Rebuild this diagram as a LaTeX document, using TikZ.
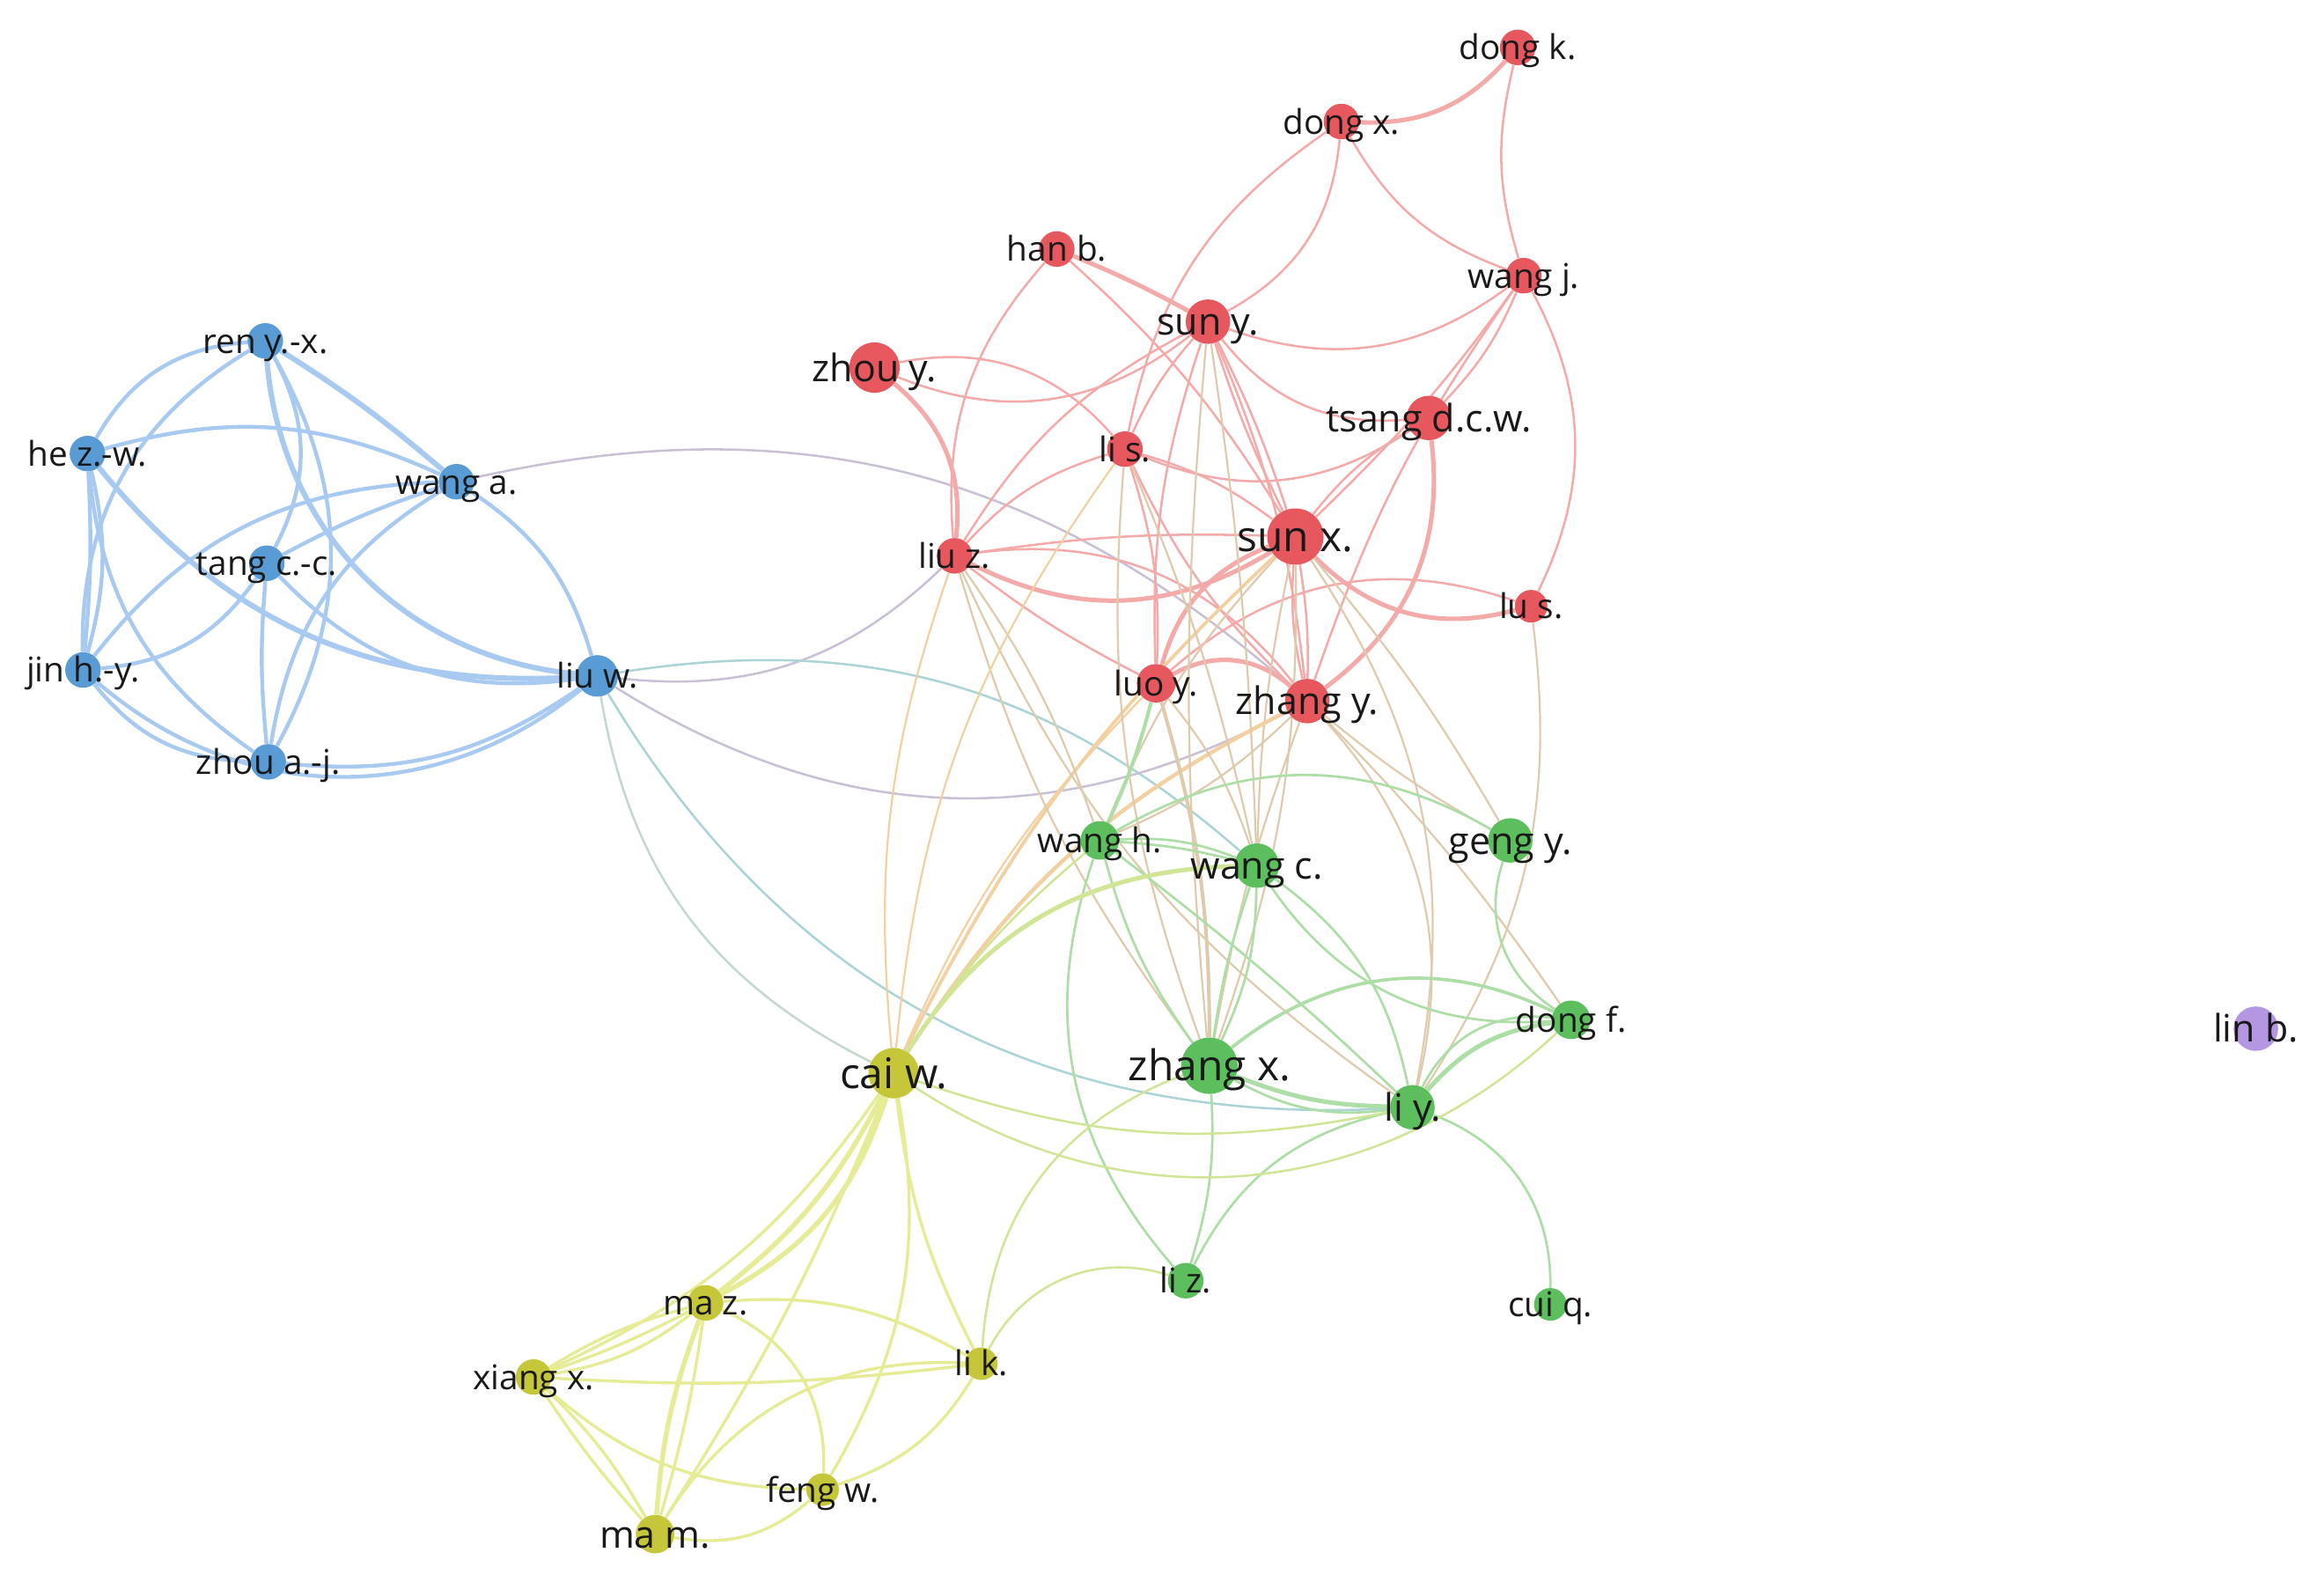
\documentclass[tikz,border=0pt]{standalone}
\usepackage{fontspec}
\setmainfont{Open Sans}
\definecolor{nred}{RGB}{231,88,94}
\definecolor{nblue}{RGB}{88,155,213}
\definecolor{ngreen}{RGB}{92,190,92}
\definecolor{nyellow}{RGB}{198,198,58}
\definecolor{npurple}{RGB}{180,150,226}
\definecolor{cblue}{RGB}{168,202,240}
\definecolor{cred}{RGB}{245,170,170}
\definecolor{cgreen}{RGB}{172,222,166}
\definecolor{cyellow}{RGB}{230,235,150}
\definecolor{crg}{RGB}{222,202,172}
\definecolor{cry}{RGB}{242,208,160}
\definecolor{cyg}{RGB}{208,230,150}
\definecolor{cbr}{RGB}{202,192,214}
\definecolor{cbg}{RGB}{172,212,215}
\definecolor{cby}{RGB}{196,216,206}
\definecolor{txt}{RGB}{25,25,25}
\pgfdeclarelayer{bg}
\pgfdeclarelayer{edges}
\pgfsetlayers{bg,edges,main}
\begin{document}
\begin{tikzpicture}[x=1pt,y=1pt,
  nd/.style={circle,inner sep=0pt,minimum size=#1},
  R/.style={fill=nred}, B/.style={fill=nblue}, G/.style={fill=ngreen},
  Y/.style={fill=nyellow}, P/.style={fill=npurple},
  lb/.style={inner sep=0pt,anchor=base,text=txt},
  ls/.style={lb,font=\fontsize{23}{23}\selectfont,yshift=-8.3pt},
  lm/.style={lb,font=\fontsize{25.5}{25.5}\selectfont,yshift=-9.2pt},
  ll/.style={lb,font=\fontsize{28.5}{28.5}\selectfont,yshift=-10.3pt},
  eb/.style={draw=cblue,line width=2.6pt},
  eB/.style={draw=cblue,line width=3.6pt},
  er/.style={draw=cred,line width=1.5pt},
  eR/.style={draw=cred,line width=3pt},
  eg/.style={draw=cgreen,line width=1.6pt},
  eG/.style={draw=cgreen,line width=3pt},
  ey/.style={draw=cyellow,line width=2pt},
  eY/.style={draw=cyellow,line width=3.2pt},
  erg/.style={draw=crg,line width=1.3pt},
  ery/.style={draw=cry,line width=1.3pt},
  eyg/.style={draw=cyg,line width=1.5pt},
  ebr/.style={draw=cbr,line width=1.5pt},
  ebg/.style={draw=cbg,line width=1.5pt},
  eby/.style={draw=cby,line width=1.5pt}]
\useasboundingbox (0,-1067) rectangle (1568,0);
\begin{pgfonlayer}{bg}
\fill[white] (0,-1067) rectangle (1568,0);
\end{pgfonlayer}

% ---------- nodes ----------
% red
\node[nd=24,R] (dongk) at (1024,-32) {};
\node[nd=24,R] (dongx) at (905,-82) {};
\node[nd=24,R] (hanb) at (713,-168) {};
\node[nd=24,R] (wangj) at (1028,-186) {};
\node[nd=30,R] (suny) at (815,-217) {};
\node[nd=34,R] (zhouy) at (590,-248) {};
\node[nd=30,R] (tsang) at (964,-282) {};
\node[nd=24,R] (lis) at (759,-303) {};
\node[nd=38,R] (sunx) at (874,-362) {};
\node[nd=24,R] (liuz) at (644,-375) {};
\node[nd=22,R] (lus) at (1033,-409) {};
\node[nd=26,R] (luoy) at (780,-461) {};
\node[nd=30,R] (zhangy) at (882,-473) {};
% green
\node[nd=26,G] (wangh) at (742,-567) {};
\node[nd=30,G] (wangc) at (848,-584) {};
\node[nd=30,G] (gengy) at (1019,-567) {};
\node[nd=26,G] (dongf) at (1060,-688) {};
\node[nd=38,G] (zhangx) at (816,-719) {};
\node[nd=30,G] (liy) at (953,-747) {};
\node[nd=24,G] (liz) at (800,-864) {};
\node[nd=22,G] (cuiq) at (1046,-880) {};
% yellow
\node[nd=34,Y] (caiw) at (603,-724) {};
\node[nd=24,Y] (maz) at (476,-879) {};
\node[nd=24,Y] (xiangx) at (360,-929) {};
\node[nd=22,Y] (lik) at (662,-920) {};
\node[nd=22,Y] (fengw) at (555,-1005) {};
\node[nd=26,Y] (mam) at (442,-1035) {};
% purple
\node[nd=30,P] (linb) at (1522,-694) {};
% blue
\node[nd=24,B] (ren) at (179,-230) {};
\node[nd=24,B] (hez) at (59,-306) {};
\node[nd=24,B] (wanga) at (308,-325) {};
\node[nd=24,B] (tang) at (180,-380) {};
\node[nd=24,B] (jin) at (56,-452) {};
\node[nd=24,B] (zhoua) at (181,-514) {};
\node[nd=28,B] (liuw) at (403,-456) {};

% ---------- edges ----------
\begin{pgfonlayer}{edges}
% blue
\draw[eb] (ren) to[bend right=28] (hez);
\draw[eb] (ren) to[bend right=30] (jin);
\draw[eb] (ren) to[bend left=28] (tang);
\draw[eb] (ren) to[bend left=29] (zhoua);
\draw[eB] (ren) to[bend left=4] (wanga);
\draw[eB] (ren) to[bend right=40] (liuw);
\draw[eb] (hez) to[bend left=20] (wanga);
\draw[eb] (hez) to[bend left=4] (jin);
\draw[eb] (hez) to[bend left=14] (jin);
\draw[eb] (hez) to[bend right=25] (zhoua);
\draw[eB] (hez) to[bend right=27] (liuw);
\draw[eb] (jin) to[bend left=25] (wanga);
\draw[eb] (jin) to[bend right=25] (tang);
\draw[eb] (jin) to[bend right=25] (zhoua);
\draw[eb] (jin) to[bend right=40] (liuw);
\draw[eb] (tang) to[bend left=5] (wanga);
\draw[eb] (tang) to[bend right=5] (zhoua);
\draw[eb] (tang) to[bend right=27] (liuw);
\draw[eb] (wanga) to[bend right=25] (zhoua);
\draw[eb] (wanga) to[bend left=20] (liuw);
\draw[eb] (zhoua) to[bend right=20] (liuw);
% blue cross
\draw[ebr] (wanga) to[bend left=27] (zhangy);
\draw[ebr] (liuw) to[bend right=25] (liuz);
\draw[ebg] (liuw) to[bend left=25] (wangc);
\draw[ebr] (liuw) to[bend right=30] (zhangy);
\draw[eby] (liuw) to[bend right=27] (caiw);
\draw[ebg] (liuw) to[bend right=31] (liy);
% red
\draw[eR] (dongx) to[bend right=25] (dongk);
\draw[er] (dongk) to[bend right=15] (wangj);
\draw[er] (dongx) to[bend left=28] (suny);
\draw[er] (dongx) to[bend right=20] (wangj);
\draw[er] (dongx) to[bend right=22] (lis);
\draw[eR] (hanb) to[bend left=3] (suny);
\draw[er] (hanb) to[bend left=8] (sunx);
\draw[er] (hanb) to[bend right=23] (liuz);
\draw[er] (suny) to[bend right=28] (wangj);
\draw[er] (suny) to[bend right=28] (tsang);
\draw[er] (zhouy) to[bend right=30] (suny);
\draw[er] (zhouy) to[bend left=30] (lis);
\draw[eR] (zhouy) to[bend left=28] (liuz);
\draw[er] (lis) to[bend left=8] (suny);
\draw[er] (lis) to[bend right=28] (tsang);
\draw[er] (suny) to[bend left=4] (sunx);
\draw[er] (suny) to[bend right=4] (sunx);
\draw[er] (suny) to[bend left=8] (zhangy);
\draw[er] (suny) to[bend right=10] (luoy);
\draw[er] (suny) to[bend right=15] (liuz);
\draw[er] (wangj) to[bend left=10] (tsang);
\draw[er] (wangj) to[bend left=5] (sunx);
\draw[er] (wangj) to[bend right=8] (zhangy);
\draw[er] (wangj) to[bend left=27] (lus);
\draw[er] (liuz) to[bend left=5] (sunx);
\draw[eR] (liuz) to[bend right=29] (sunx);
\draw[er] (liuz) to[bend left=30] (zhangy);
\draw[eR] (sunx) to[bend right=30] (lus);
\draw[eR] (sunx) to[bend right=26] (luoy);
\draw[er] (sunx) to[bend left=5] (zhangy);
\draw[er] (sunx) to[bend right=8] (zhangy);
\draw[eR] (tsang) to[bend left=30] (zhangy);
\draw[er] (tsang) to[bend right=10] (sunx);
\draw[eR] (luoy) to[bend left=35] (zhangy);
\draw[er] (luoy) to[bend left=30] (lus);
\draw[er] (lis) to[bend left=10] (sunx);
\draw[er] (lis) to[bend right=15] (liuz);
\draw[er] (lis) to[bend left=10] (luoy);
\draw[er] (lis) to[bend right=10] (zhangy);
\draw[er] (liuz) to[bend right=5] (luoy);
% red cross
\draw[erg] (sunx) to[bend right=10] (wangh);
\draw[erg] (sunx) to[bend right=5] (wangc);
\draw[erg] (sunx) to[bend left=10] (zhangx);
\draw[erg] (sunx) to[bend left=22] (liy);
\draw[ery,line width=2.2pt] (sunx) to[bend right=10] (caiw);
\draw[ery,line width=2.6pt] (zhangy) to[bend right=15] (caiw);
\draw[erg] (zhangy) to[bend left=10] (wangh);
\draw[erg] (zhangy) to[bend right=5] (zhangx);
\draw[erg] (zhangy) to[bend left=28] (liy);
\draw[erg] (zhangy) to[bend right=5] (gengy);
\draw[erg] (zhangy) to[bend left=5] (dongf);
\draw[erg] (luoy) to[bend left=10] (wangc);
\draw[ery] (luoy) to[bend right=10] (caiw);
\draw[erg,line width=2.4pt] (luoy) to[bend left=8] (zhangx);
\draw[erg] (liuz) to[bend right=10] (zhangx);
\draw[erg] (liuz) to[bend left=8] (wangh);
\draw[ery] (liuz) to[bend right=12] (caiw);
\draw[erg] (liuz) to[bend right=15] (liy);
\draw[erg] (lis) to[bend right=12] (zhangx);
\draw[erg] (lis) to[bend left=5] (wangc);
\draw[ery] (lis) to[bend right=15] (caiw);
\draw[erg] (suny) to[bend left=3] (wangc);
\draw[erg] (suny) to[bend right=5] (zhangx);
\draw[erg] (lus) to[bend left=20] (liy);
\draw[erg] (sunx) to[bend left=5] (gengy);
% green
\draw[eg,line width=2.4pt] (wangh) to[bend right=5] (luoy);
\draw[eg] (wangh) to[bend left=5] (wangc);
\draw[eg] (wangh) to[bend left=12] (wangc);
\draw[eg] (wangh) to[bend right=10] (zhangx);
\draw[eg] (wangh) to[bend left=3] (liy);
\draw[eg] (wangh) to[bend left=30] (gengy);
\draw[eg] (wangh) to[bend right=30] (liz);
\draw[eg] (wangc) to[bend right=5] (zhangx);
\draw[eg] (wangc) to[bend left=12] (zhangx);
\draw[eg] (wangc) to[bend left=21] (liy);
\draw[eg] (wangc) to[bend right=30] (dongf);
\draw[eG] (zhangx) to[bend right=10] (liy);
\draw[eg] (zhangx) to[bend right=18] (liy);
\draw[eg,line width=2.2pt] (zhangx) to[bend left=32] (dongf);
\draw[eg] (zhangx) to[bend left=10] (liz);
\draw[eG] (liy) to[bend left=20] (dongf);
\draw[eg] (liy) to[bend left=35] (dongf);
\draw[eg] (gengy) to[bend right=38] (dongf);
\draw[eg] (liy) to[bend left=35] (cuiq);
\draw[eg] (liy) to[bend right=25] (liz);
\draw[eyg] (liz) to[bend right=40] (lik);
\draw[eyg] (zhangx) to[bend right=33] (lik);
\draw[eyg,line width=3pt] (caiw) to[bend left=28] (wangc);
\draw[eyg] (caiw) to[bend right=15] (liy);
\draw[eyg] (caiw) to[bend right=38] (dongf);
\draw[eyg] (caiw) to[bend left=8] (wangh);
% yellow
\draw[eY] (caiw) to[bend left=12] (maz);
\draw[eY] (caiw) to[bend left=22] (maz);
\draw[ey] (caiw) to[bend left=15] (xiangx);
\draw[ey] (caiw) to[bend left=5] (mam);
\draw[ey] (caiw) to[bend left=20] (fengw);
\draw[ey] (caiw) to[bend right=10] (lik);
\draw[ey] (maz) to[bend left=4] (xiangx);
\draw[ey] (maz) to[bend right=8] (xiangx);
\draw[ey] (maz) to[bend left=14] (xiangx);
\draw[eY] (maz) to[bend right=8] (mam);
\draw[ey] (maz) to[bend left=4] (mam);
\draw[ey] (maz) to[bend left=17] (lik);
\draw[ey] (maz) to[bend left=35] (fengw);
\draw[ey] (xiangx) to[bend right=4] (mam);
\draw[ey] (xiangx) to[bend left=8] (mam);
\draw[ey] (xiangx) to[bend right=20] (fengw);
\draw[ey] (xiangx) to[bend right=5] (lik);
\draw[ey] (mam) to[bend right=25] (fengw);
\draw[ey] (mam) to[bend left=30] (lik);
\draw[ey] (fengw) to[bend right=20] (lik);
\end{pgfonlayer}

% ---------- labels ----------
\node[ls] (t-dongk) at (dongk) {dong k.};
\node[ls] (t-dongx) at (dongx) {dong x.};
\node[ls] (t-hanb) at (hanb) {han b.};
\node[ls] (t-wangj) at (wangj) {wang j.};
\node[lm] (t-suny) at (suny) {sun y.};
\node[lm] (t-zhouy) at (zhouy) {zhou y.};
\node[lm] (t-tsang) at (tsang) {tsang d.c.w.};
\node[ls] (t-lis) at (lis) {li s.};
\node[ll] (t-sunx) at (sunx) {sun x.};
\node[ls] (t-liuz) at (liuz) {liu z.};
\node[ls] (t-lus) at (lus) {lu s.};
\node[ls] (t-luoy) at (luoy) {luo y.};
\node[lm] (t-zhangy) at (zhangy) {zhang y.};
\node[ls] (t-wangh) at (wangh) {wang h.};
\node[lm] (t-wangc) at (wangc) {wang c.};
\node[lm] (t-gengy) at (gengy) {geng y.};
\node[ls] (t-dongf) at (dongf) {dong f.};
\node[ll] (t-zhangx) at (zhangx) {zhang x.};
\node[lm] (t-liy) at (liy) {li y.};
\node[ls] (t-liz) at (liz) {li z.};
\node[ls] (t-cuiq) at (cuiq) {cui q.};
\node[ll] (t-caiw) at (caiw) {cai w.};
\node[ls] (t-maz) at (maz) {ma z.};
\node[ls] (t-xiangx) at (xiangx) {xiang x.};
\node[ls] (t-lik) at (lik) {li k.};
\node[ls] (t-fengw) at (fengw) {feng w.};
\node[lm] (t-mam) at (mam) {ma m.};
\node[lm] (t-linb) at (linb) {lin b.};
\node[ls] (t-ren) at (ren) {ren y.-x.};
\node[ls] (t-hez) at (hez) {he z.-w.};
\node[ls] (t-wanga) at (wanga) {wang a.};
\node[ls] (t-tang) at (tang) {tang c.-c.};
\node[ls] (t-jin) at (jin) {jin h.-y.};
\node[ls] (t-zhoua) at (zhoua) {zhou a.-j.};
\node[ls] (t-liuw) at (liuw) {liu w.};
\end{tikzpicture}
\end{document}
